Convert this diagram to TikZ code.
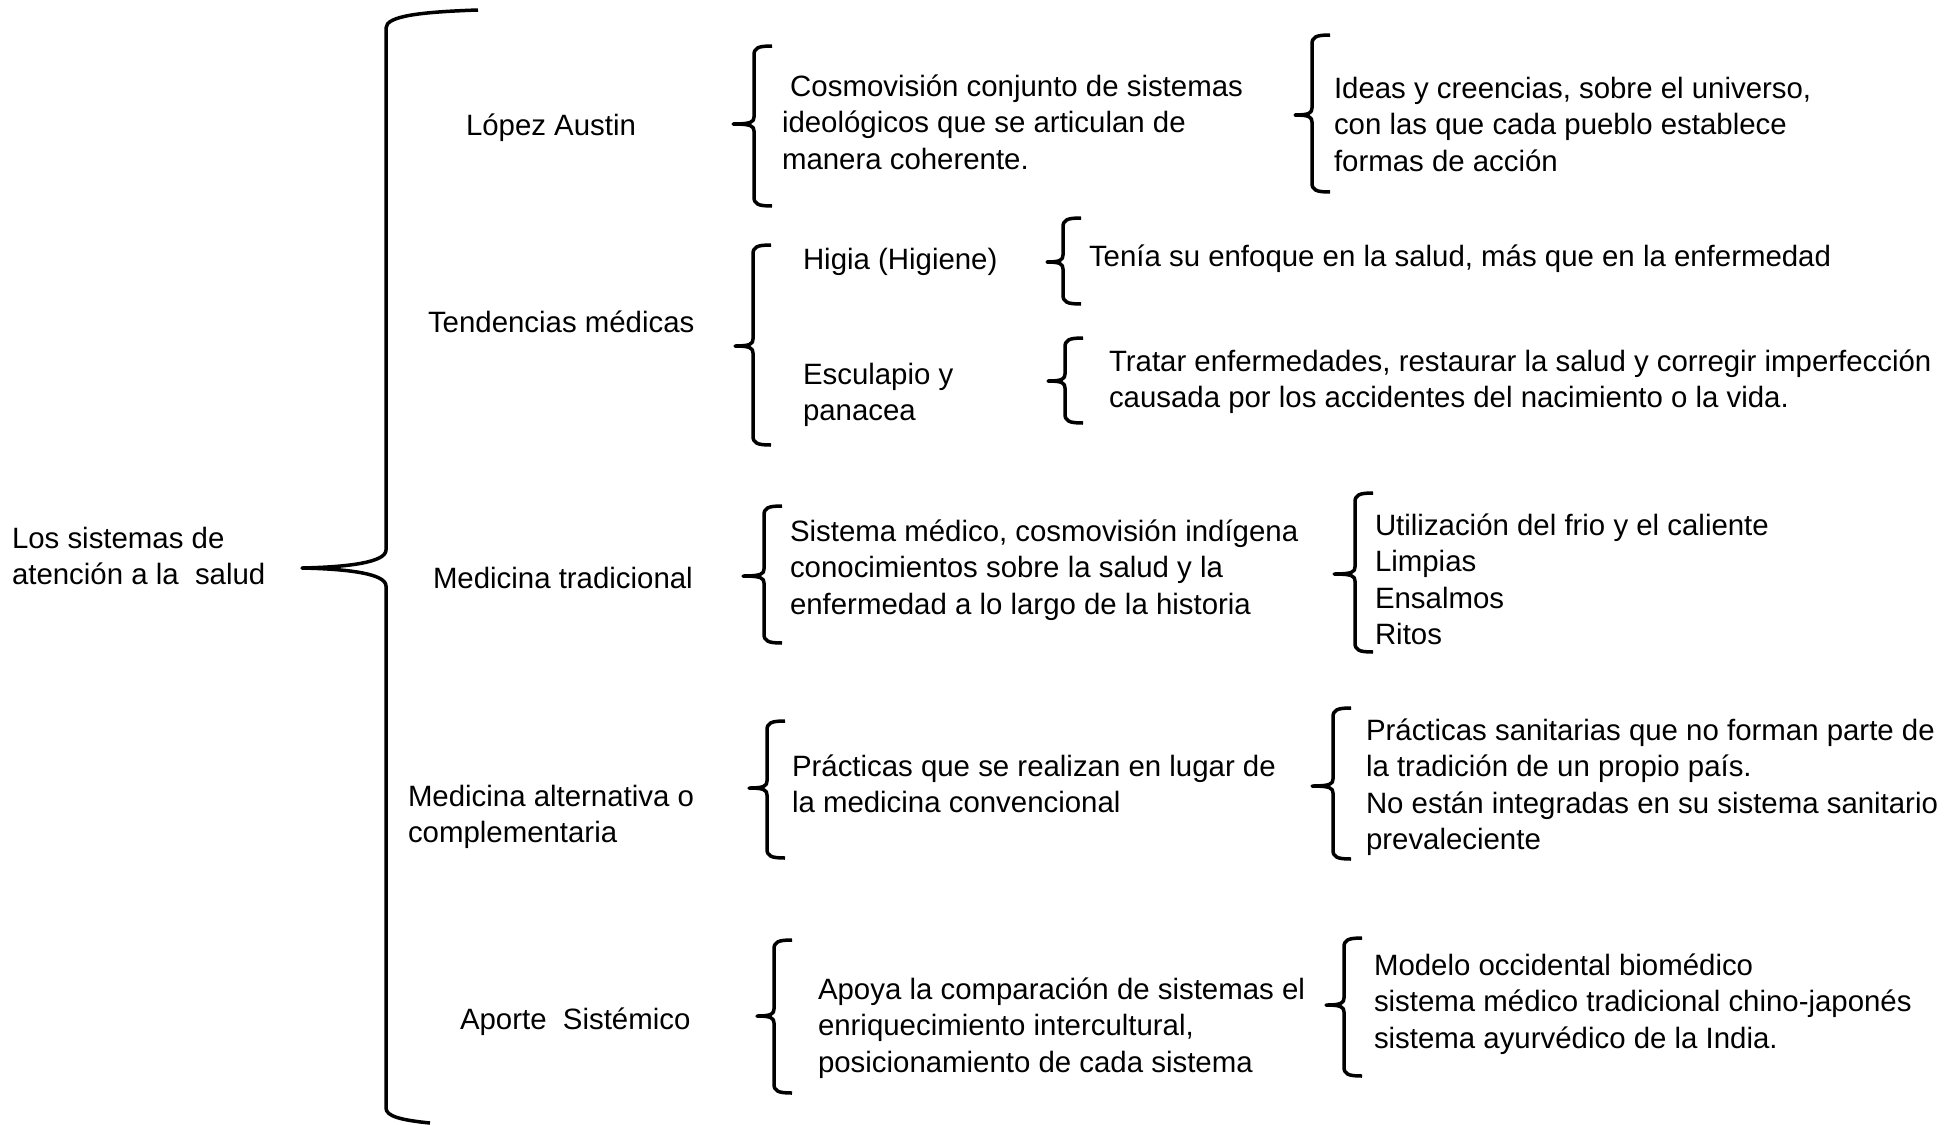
\documentclass[tikz,border=0pt]{standalone}
\usepackage{fontspec}
\setmainfont{Liberation Sans}
\newcommand\mlines[1]{\begin{tabular}[t]{@{}l@{}}#1\end{tabular}}
\newcommand\sbr[5]{% x top bot tipx tipy
  \draw[brc] ({#1+18},#2) .. controls ({#1+4},#2) and (#1,{#2+2}) .. (#1,{#2+9})
    -- (#1,{#5-7}) .. controls (#1,{#5-2}) and ({#1-3},#5) .. (#4,#5)
    .. controls ({#1-3},#5) and (#1,{#5+2}) .. (#1,{#5+7})
    -- (#1,{#3-9}) .. controls (#1,{#3-2}) and ({#1+4},#3) .. ({#1+18},#3);}
\begin{document}
\begin{tikzpicture}[x=0.5pt,y=-0.5pt,
  txt/.style={anchor=base west, inner sep=0pt, outer sep=0pt, font=\fontsize{14.7}{18.25}\selectfont},
  brc/.style={line width=1.75pt, line join=round}]
\useasboundingbox (0,0) rectangle (1958,1124);

% texts
\node[txt] (root) at (12,548) {\mlines{Los sistemas de\\atención a la\ \ salud}};
\node[txt] (lopez) at (466,135) {López Austin};
\node[txt] (tend) at (428,332) {Tendencias médicas};
\node[txt] (medtrad) at (433,588) {Medicina tradicional};
\node[txt] (medalt) at (408,806) {\mlines{Medicina alternativa o\\complementaria}};
\node[txt] (aporte) at (460,1029) {Aporte\ \ Sistémico};

\node[txt] (cosmo) at (782,96) {\mlines{\hspace*{0.28em}Cosmovisión conjunto de sistemas\\ideológicos que se articulan de\\manera coherente.}};
\node[txt] (ideas) at (1334,98) {\mlines{Ideas y creencias, sobre el universo,\\con las que cada pueblo establece\\formas de acción}};
\node[txt] (higia) at (803,269) {Higia (Higiene)};
\node[txt] (escul) at (803,384) {\mlines{Esculapio y\\panacea}};
\node[txt] (tenia) at (1089,266) {Tenía su enfoque en la salud, más que en la enfermedad};
\node[txt] (tratar) at (1109,371) {\mlines{Tratar enfermedades, restaurar la salud y corregir imperfección\\causada por los accidentes del nacimiento o la vida.}};
\node[txt] (sistema) at (790,541) {\mlines{Sistema médico, cosmovisión indígena\\conocimientos sobre la salud y la\\enfermedad a lo largo de la historia}};
\node[txt] (utiliz) at (1375,535) {\mlines{Utilización del frio y el caliente\\Limpias\\Ensalmos\\Ritos}};
\node[txt] (pract1) at (792,776) {\mlines{Prácticas que se realizan en lugar de\\la medicina convencional}};
\node[txt] (pract2) at (1366,740) {\mlines{Prácticas sanitarias que no forman parte de\\la tradición de un propio país.\\No están integradas en su sistema sanitario\\prevaleciente}};
\node[txt] (apoya) at (818,999) {\mlines{Apoya la comparación de sistemas el\\enriquecimiento intercultural,\\posicionamiento de cada sistema}};
\node[txt] (modelo) at (1374,975) {\mlines{Modelo occidental biomédico\\sistema médico tradicional chino-japonés\\sistema ayurvédico de la India.}};

% big brace
\draw[brc] (478,10) .. controls (420,12) and (386,16) .. (386,28)
  -- (386,550) .. controls (386,562) and (350,567) .. (302,568)
  .. controls (350,569) and (386,574) .. (386,586)
  -- (386,1108) .. controls (386,1116) and (400,1120) .. (430,1123);

% small braces: x top bottom tipx tipy
\sbr{754}{46}{206}{733}{124}
\sbr{753}{245}{445}{735}{346}
\sbr{1312}{35}{192}{1295}{115}
\sbr{1063}{218}{304}{1047}{262}
\sbr{1065}{338}{423}{1048}{381}
\sbr{764}{506}{643}{743}{576}
\sbr{1355}{493}{652}{1334}{574}
\sbr{767}{721}{858}{749}{788}
\sbr{1333}{708}{859}{1312}{786}
\sbr{774}{940}{1093}{757}{1016}
\sbr{1344}{938}{1076}{1326}{1005}
\end{tikzpicture}
\end{document}
